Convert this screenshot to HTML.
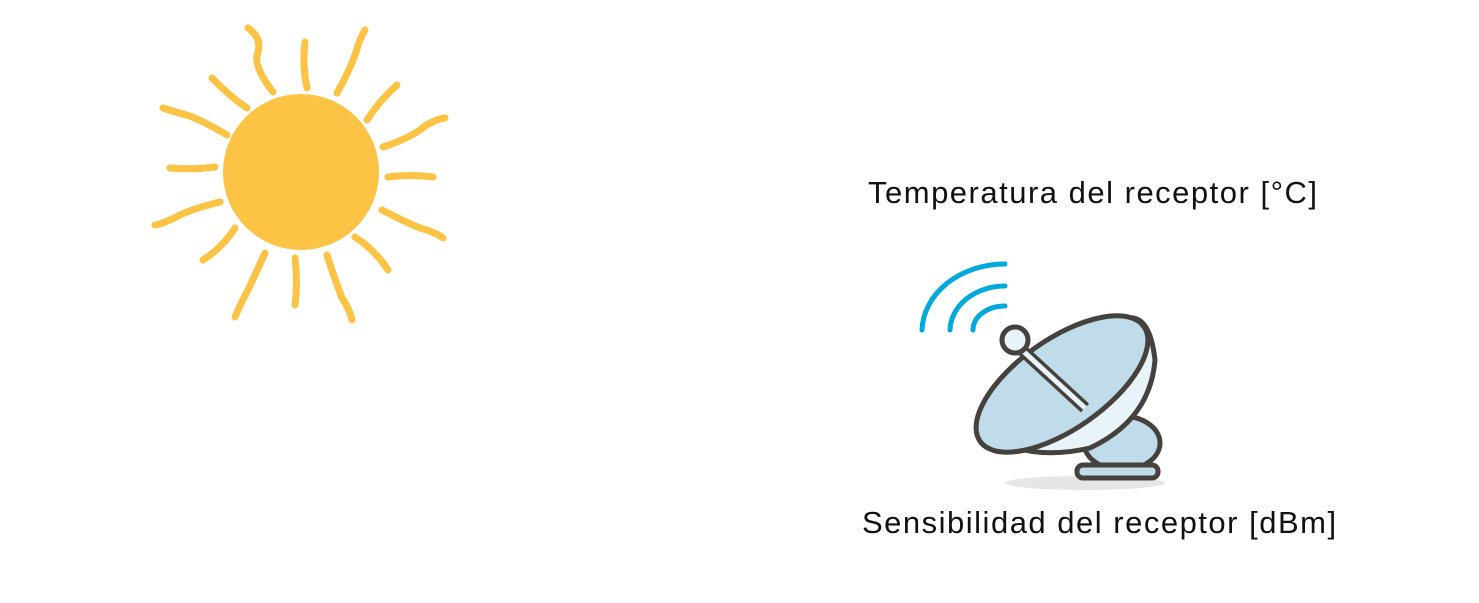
<!DOCTYPE html>
<html><head><meta charset="utf-8"><style>
html,body{margin:0;padding:0;background:#fff;width:1479px;height:603px;overflow:hidden}
svg{position:absolute;left:0;top:0}
.t{position:absolute;font-family:"Liberation Sans",sans-serif;font-size:31px;letter-spacing:1.5px;color:#111;white-space:nowrap}
</style></head><body>
<svg width="1479" height="603">
<g fill="none" stroke="#fdc345" stroke-width="7" stroke-linecap="round">
<circle cx="301" cy="172" r="78" fill="#fdc345" stroke="none"/>
<path d="M273 92 Q252 65 258 52 Q262 38 248 28"/>
<path d="M307 88 Q302 65 305 42"/>
<path d="M337 93 Q350 70 356 52 Q360 38 365 30"/>
<path d="M367 120 Q380 100 397 85"/>
<path d="M383 147 Q405 140 420 130 Q432 120 445 118"/>
<path d="M388 177 Q410 174 433 177"/>
<path d="M382 210 Q405 222 420 228 Q435 232 443 238"/>
<path d="M355 237 Q375 250 388 270"/>
<path d="M327 255 Q335 280 342 298 Q350 310 352 320"/>
<path d="M295 258 Q298 282 295 305"/>
<path d="M265 253 Q255 275 248 290 Q240 305 235 317"/>
<path d="M235 228 Q222 248 203 260"/>
<path d="M220 202 Q195 208 180 215 Q165 223 155 225"/>
<path d="M215 167 Q192 170 170 168"/>
<path d="M227 135 Q205 122 190 116 Q175 112 163 108"/>
<path d="M247 108 Q228 95 212 78"/>
</g>
<g fill="none" stroke="#00a9dd" stroke-width="5" stroke-linecap="round">
<path d="M922 330 A83 68 0 0 1 1005 264"/>
<path d="M950 330 A55 45 0 0 1 1005 286"/>
<path d="M973 330 A32 24 0 0 1 1005 306"/>
</g>
<g stroke="#45413c" stroke-width="5" stroke-linejoin="round">
<ellipse cx="1085" cy="483" rx="80" ry="7" fill="#e6e6e6" stroke="none"/>
<ellipse cx="1122" cy="443" rx="38" ry="27" fill="#c0dceb"/>
<rect x="1077" y="465" width="81" height="13" rx="6" fill="#c0dceb"/>
<path d="M988 435 Q1030 462 1090 448 Q1150 420 1155 360 Q1150 315 1128 318 Z" fill="#e8f4fa"/>
<ellipse cx="1062" cy="384" rx="100" ry="45" transform="rotate(-35 1062 384)" fill="#c0dceb"/>
<line x1="1022" y1="350" x2="1085" y2="408" stroke-width="12"/>
<line x1="1022" y1="350" x2="1085" y2="408" stroke="#e8f4fa" stroke-width="5"/>
<circle cx="1015" cy="340" r="13" fill="#e8f4fa"/>
</g>
</svg>
<div class="t" style="left:868px;top:175px">Temperatura del receptor [°C]</div>
<div class="t" style="left:862px;top:505px">Sensibilidad del receptor [dBm]</div>
</body></html>
